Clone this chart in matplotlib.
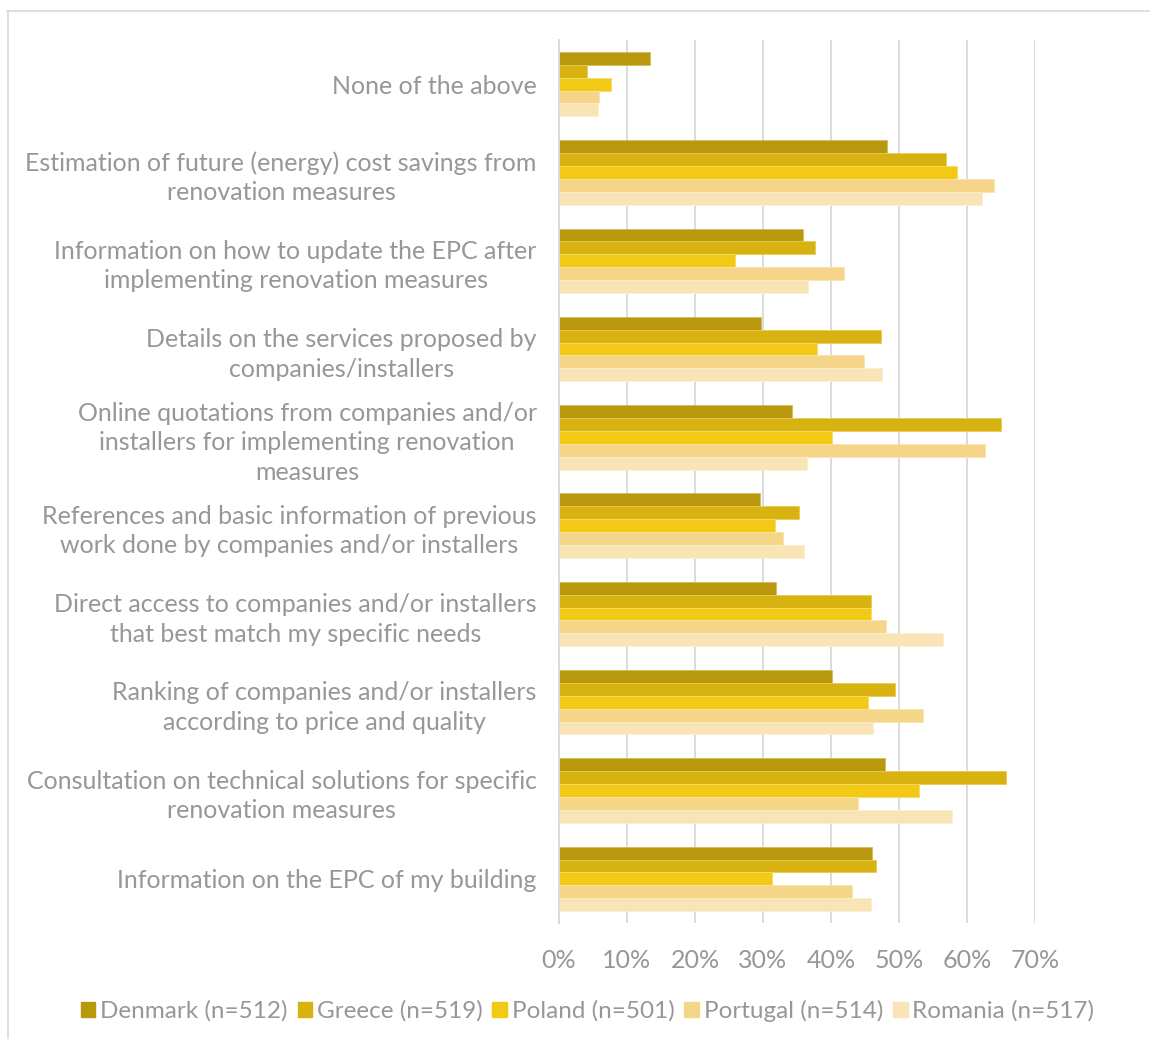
import matplotlib
matplotlib.use("Agg")
import matplotlib.pyplot as plt
from matplotlib.lines import Line2D
import numpy as np

plt.rcParams["font.family"] = ["Lato", "DejaVu Sans"]
plt.rcParams["font.weight"] = "normal"

categories = [
    "None of the above",
    "Estimation of future (energy) cost savings from\nrenovation measures",
    "Information on how to update the EPC after\nimplementing renovation measures",
    "Details on the services proposed by\ncompanies/installers",
    "Online quotations from companies and/or\ninstallers for implementing renovation\nmeasures",
    "References and basic information of previous\nwork done by companies and/or installers",
    "Direct access to companies and/or installers\nthat best match my specific needs",
    "Ranking of companies and/or installers\naccording to price and quality",
    "Consultation on technical solutions for specific\nrenovation measures",
    "Information on the EPC of my building",
]

series = [
    "Denmark (n=512)",
    "Greece (n=519)",
    "Poland (n=501)",
    "Portugal (n=514)",
    "Romania (n=517)",
]

denmark = [13.4, 48.3, 35.9, 29.7, 34.3, 29.6, 31.9, 40.2, 48.0, 46.0]
greece = [4.1, 56.9, 37.6, 47.3, 65.0, 35.3, 45.9, 49.4, 65.7, 46.6]
poland = [7.7, 58.6, 25.9, 38.0, 40.2, 31.8, 45.9, 45.4, 53.0, 31.3]
portugal = [5.9, 63.9, 41.9, 44.8, 62.6, 33.0, 48.1, 53.6, 43.9, 43.1]
romania = [5.7, 62.2, 36.6, 47.5, 36.4, 36.0, 56.5, 46.2, 57.8, 45.9]

values = [denmark, greece, poland, portugal, romania]
colors = ["#BA980E", "#D8B211", "#F2C914", "#F5D587", "#F8E4B5"]
edge_colors = ["#D2BC5E", "#E6CB55", "#F7DC63", "#FAE4B0", "#FBEFD2"]

text_color = "#979797"
grid_color = "#D9D9D9"
font_size = 18

fig = plt.figure(figsize=(11.5, 10.39), dpi=100)
ax = fig.add_axes([559 / 1150, 1 - 923 / 1039, 476 / 1150, 883 / 1039])

n_series = len(series)
bar_h = 0.146
y = np.arange(len(categories))
for i, (name, vals) in enumerate(zip(series, values)):
    offs = (i - (n_series - 1) / 2) * bar_h
    ax.barh(y + offs, vals, height=bar_h, color=colors[i],
            edgecolor=edge_colors[i], linewidth=0.6, label=name, zorder=3)

ax.set_ylim(len(categories) - 0.5, -0.5)
ax.set_xlim(0, 70)
ax.set_xticks(np.arange(0, 71, 10))
ax.set_xticklabels([f"{v}%" for v in range(0, 71, 10)])
ax.set_yticks(y)
ax.set_yticklabels(categories)
for lbl in ax.get_yticklabels():
    lbl.set_multialignment("center")
    lbl.set_linespacing(1.35)

ax.grid(axis="x", color=grid_color, linewidth=1.3, zorder=0)
for s in ["top", "right", "bottom"]:
    ax.spines[s].set_visible(False)
ax.spines["left"].set_color(grid_color)
ax.spines["left"].set_linewidth(1.3)
ax.spines["left"].set_zorder(4)

ax.tick_params(axis="both", length=0, colors=text_color, labelsize=font_size)
ax.tick_params(axis="y", pad=16)
ax.tick_params(axis="x", pad=19)

handles = [plt.Rectangle((0, 0), 1, 1, color=c) for c in colors]
fig.legend(handles, series, loc="center", bbox_to_anchor=(0.511, 1 - 1011 / 1039),
           ncol=5, frameon=False, fontsize=17.5, labelcolor=text_color,
           handlelength=0.6, handleheight=0.6, handletextpad=0.2,
           columnspacing=0.4, borderpad=0)

# thin frame around the chart area
fig.add_artist(Line2D([7 / 1150, 1.0], [1 - 10.5 / 1039, 1 - 10.5 / 1039],
                      transform=fig.transFigure, color="#D9D9D9", linewidth=1.2))
fig.add_artist(Line2D([7.5 / 1150, 7.5 / 1150], [0.0, 1 - 10.5 / 1039],
                      transform=fig.transFigure, color="#D9D9D9", linewidth=1.2))

fig.savefig("out.png", dpi=100, facecolor="white")
